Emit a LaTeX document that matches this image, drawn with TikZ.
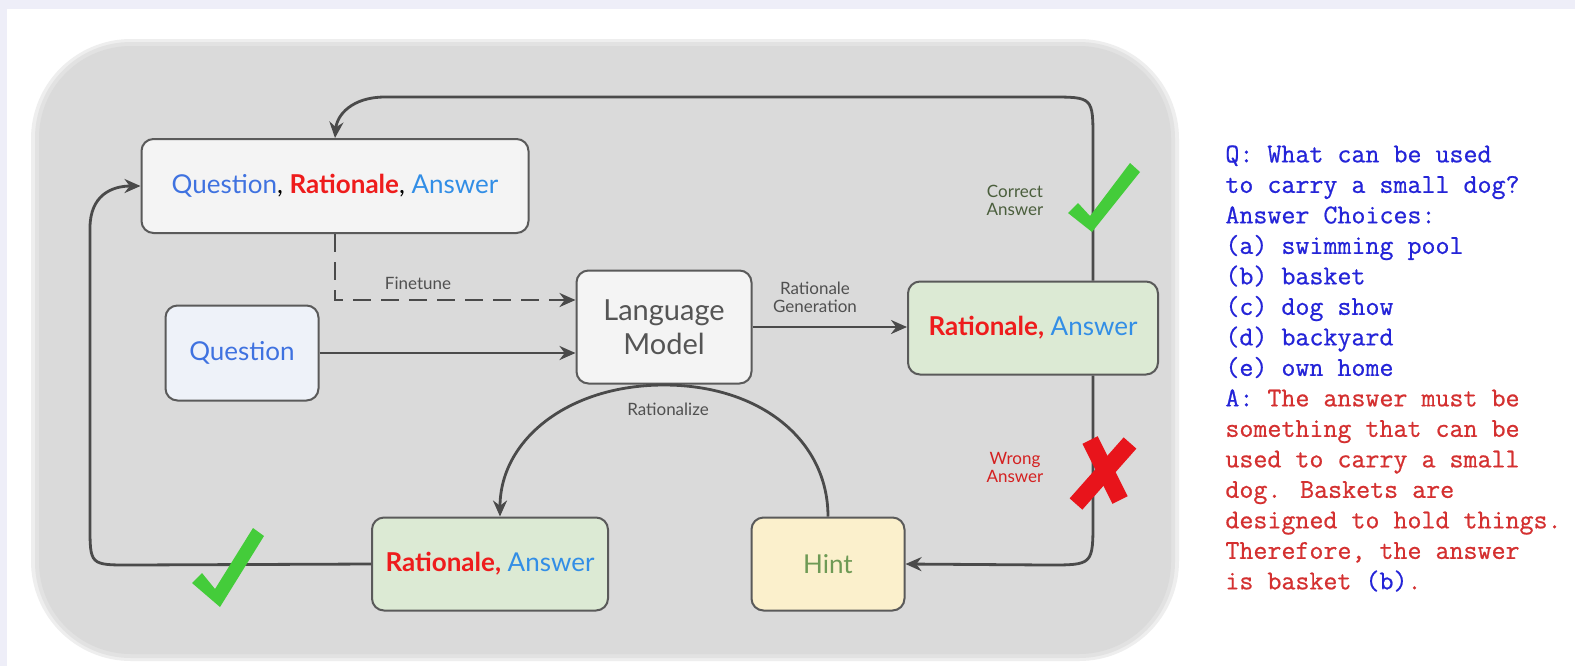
\documentclass[tikz,border=0pt]{standalone}
\usepackage{fontspec}
\newfontfamily\diag{Lato}
\newfontfamily\monof{Latin Modern Mono}[FakeBold=0.7]
\usetikzlibrary{arrows.meta,calc}
\definecolor{lav}{HTML}{EEEEF8}
\definecolor{panel}{HTML}{DADADA}
\definecolor{panelb}{HTML}{E2E2E2}
\definecolor{panelc}{HTML}{EEEEEE}
\definecolor{bluet}{HTML}{3F72E0}
\definecolor{redt}{HTML}{EE1C1C}
\definecolor{lmt}{HTML}{555555}
\definecolor{lblt}{HTML}{505050}
\definecolor{lightf}{HTML}{F4F4F4}
\definecolor{qf}{HTML}{EEF2F9}
\definecolor{greenf}{HTML}{DCEAD4}
\definecolor{yellowf}{HTML}{FBF0CC}
\definecolor{hintt}{HTML}{6E9A55}
\definecolor{checkg}{HTML}{44CC3A}
\definecolor{xred}{HTML}{E8141B}
\definecolor{corrt}{HTML}{4A5E3C}
\definecolor{wrongt}{HTML}{D42020}
\definecolor{monob}{HTML}{2424D8}
\definecolor{monor}{HTML}{D43030}
\definecolor{linec}{HTML}{4A4A4A}
\definecolor{borderc}{HTML}{5A5A5A}
\tikzset{
  box/.style={draw=borderc, line width=1pt, rounded corners=6pt, inner sep=0pt, align=center, font=\diag\fontsize{13}{15}\selectfont},
  conn/.style={draw=linec, line width=1.4pt, -{Stealth[length=8pt,width=7pt]}},
  lbl/.style={font=\diag\fontsize{8.5}{10}\selectfont, text=lblt, align=center, inner sep=1pt},
}
\begin{document}
\begin{tikzpicture}[x=0.5pt,y=-0.5pt]
\useasboundingbox (0,0) rectangle (1575,666);
\fill[lav] (0,0) rectangle (1575,666);
\fill[white] (7,9) rectangle (1575,666);
% panel (soft edge)
\fill[panelc, rounded corners=50pt] (31,39) rectangle (1179,661);
\fill[panelb, rounded corners=48pt] (35,42) rectangle (1175,658);
\fill[panel, rounded corners=46pt] (39,46) rectangle (1171,654);
% nodes
\node[box, fill=lightf, minimum width=193.5pt, minimum height=47pt] (qra) at (335,186)
  {\textcolor{bluet}{Question}, \textcolor{redt}{\bfseries Rationale}, \textcolor{bluet!80!cyan}{Answer}};
\node[box, fill=qf, minimum width=76.5pt, minimum height=47.5pt] (q) at (242,353) {\textcolor{bluet}{Question}};
\node[box, fill=lightf, minimum width=87.5pt, minimum height=56.5pt, font=\diag\fontsize{14.5}{17}\selectfont, text=lmt] (lm) at (664,327) {Language\\Model};
\node[box, fill=greenf, minimum width=125pt, minimum height=46.5pt] (rar) at (1033,328)
  {\textcolor{redt}{\bfseries Rationale,} \textcolor{bluet!80!cyan}{Answer}};
\node[box, fill=greenf, minimum width=118pt, minimum height=46.5pt] (rab) at (490,564)
  {\textcolor{redt}{\bfseries Rationale,} \textcolor{bluet!80!cyan}{Answer}};
\node[box, fill=yellowf, minimum width=76.5pt, minimum height=46.5pt, text=hintt] (hint) at (828,564) {Hint};
% helper coordinates
\coordinate (xr) at (1093,0);
\coordinate (fy) at (0,300);
\coordinate (ra) at (500,0);
% connectors
\draw[conn] (rar.north -| xr) -- (1093,140) .. controls (1093,97) .. (1050,97) -- (385,97) .. controls (352,97) and (337,115) .. (qra.north);
\draw[conn] (rab.west) -- (130,565) .. controls (90,565) .. (90,525) -- (90,228) .. controls (90,195) and (112,186) .. (qra.west);
\draw[conn, dashed, dash pattern=on 9pt off 5pt] (qra.south) -- (qra.south |- fy) -- (lm.west |- fy);
\node[lbl] (ft) at (418,283) {Finetune};
\draw[conn] (q.east) -- (lm.west |- q.east);
\draw[conn] (lm.east) -- (rar.west |- lm.east);
\node[lbl] (rg) at (815,297) {Rationale\\[-1pt]Generation};
\draw[conn] (rar.south -| xr) -- (1093,520) .. controls (1093,565) .. (1048,565) -- (hint.east);
\draw[conn] (hint.north) .. controls (828,440) and (760,385) .. (664,385) .. controls (568,385) and (500,440) .. (rab.north -| ra);
\node[lbl] (rz) at (668,409) {Rationalize};
% labels
\node[lbl, text=corrt] (ca) at (1015,200) {Correct\\[-1pt]Answer};
\node[lbl, text=wrongt] (wa) at (1015,467) {Wrong\\[-1pt]Answer};
% check marks
\fill[checkg] (1068,213) -- (1078,203) -- (1090,216) -- (1130,163) -- (1140,172) -- (1092,232) -- cycle;
\fill[checkg] (192,583) -- (202,573) -- (215,589) -- (253,528) -- (264,536) -- (220,607) -- cycle;
% red X
\draw[xred, line width=8.5pt] (1090,440) -- (1120,500);
\draw[xred, line width=8.5pt] (1130,443) -- (1076,504);
% right text
\node[anchor=north west, inner sep=0pt, align=left, font=\monof\fontsize{13.6}{15.25}\selectfont] (txt) at (1225,145) {%
\textcolor{monob}{Q: What can be used}\\
\textcolor{monob}{to carry a small dog?}\\
\textcolor{monob}{Answer Choices:}\\
\textcolor{monob}{(a) swimming pool}\\
\textcolor{monob}{(b) basket}\\
\textcolor{monob}{(c) dog show}\\
\textcolor{monob}{(d) backyard}\\
\textcolor{monob}{(e) own home}\\
\textcolor{monob}{A:} \textcolor{monor}{The answer must be}\\
\textcolor{monor}{something that can be}\\
\textcolor{monor}{used to carry a small}\\
\textcolor{monor}{dog. Baskets are}\\
\textcolor{monor}{designed to hold things.}\\
\textcolor{monor}{Therefore, the answer}\\
\textcolor{monor}{is basket} \textcolor{monob}{(b)}\textcolor{monor}{.}};
\end{tikzpicture}
\end{document}
